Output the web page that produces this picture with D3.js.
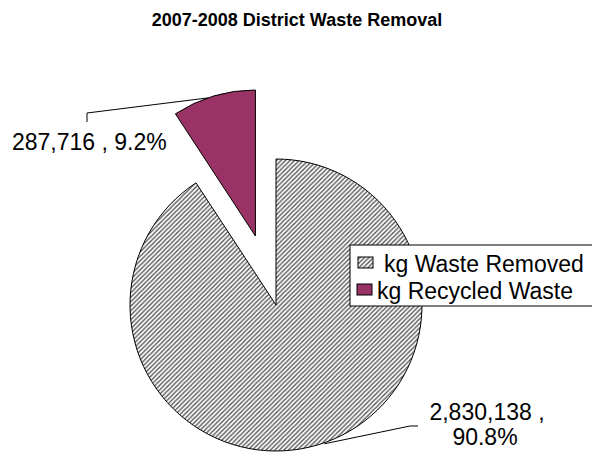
<!DOCTYPE html>
<html>
<head>
<meta charset="utf-8">
<script src="https://cdn.jsdelivr.net/npm/d3@7"></script>
<style>
  body { margin: 0; background: #fff; }
  svg { font-family: "Liberation Sans", Arial, sans-serif; }
</style>
</head>
<body>
<div id="chart"></div>
<script>
var categories = ["kg Waste Removed", "kg Recycled Waste"];
var values = [2830138, 287716];
var title = "2007-2008 District Waste Removal";

var width = 592, height = 452,
    cx = 276, cy = 305,
    radius = 146,
    explode = 72;

var svg = d3.select("#chart").append("svg")
    .attr("width", width)
    .attr("height", height);

var defs = svg.append("defs");
var hatch = defs.append("pattern")
    .attr("id", "hatch")
    .attr("patternUnits", "userSpaceOnUse")
    .attr("width", 4.5).attr("height", 4.5);
hatch.append("rect").attr("width", 4.5).attr("height", 4.5).attr("fill", "#fff");
hatch.append("path")
    .attr("d", "M-1,1 L1,-1 M0,4.5 L4.5,0 M3.5,5.5 L5.5,3.5")
    .attr("stroke", "#555").attr("stroke-width", 1.4);

var fills = ["url(#hatch)", "#993366"];

svg.append("text")
    .attr("x", 297).attr("y", 26)
    .attr("text-anchor", "middle")
    .attr("font-size", "18px")
    .attr("font-weight", "bold")
    .text(title);

var total = d3.sum(values);
var pie = d3.pie().sort(null).value(function (d) { return d; });
var arcs = pie(values);
var arc = d3.arc().innerRadius(0).outerRadius(radius);

function offsetOf(d, i) {
    if (i != 1) return [0, 0];
    var a = (d.startAngle + d.endAngle) / 2;
    return [Math.sin(a) * explode, -Math.cos(a) * explode];
}
function pointAt(a, r, off) {
    return [cx + off[0] + Math.sin(a) * r, cy + off[1] - Math.cos(a) * r];
}

var g = svg.append("g");
g.selectAll("path.slice")
    .data(arcs)
    .enter().append("path")
    .attr("class", "slice")
    .attr("transform", function (d, i) {
        var o = offsetOf(d, i);
        return "translate(" + (cx + o[0]) + "," + (cy + o[1]) + ")";
    })
    .attr("d", arc)
    .attr("fill", function (d, i) { return fills[i]; })
    .attr("stroke", "#000")
    .attr("stroke-width", 1);

var numFmt = d3.format(",");
var pctFmt = d3.format(".1%");

var big = arcs[0], small = arcs[1];

// small slice label
var sOff = offsetOf(small, 1);
var sp = pointAt(small.startAngle + 0.43 * (small.endAngle - small.startAngle), radius, sOff);
svg.append("path")
    .attr("d", "M" + sp[0] + "," + sp[1] + " L87,113 L87,122")
    .attr("fill", "none").attr("stroke", "#000").attr("stroke-width", 1);
svg.append("text")
    .attr("x", 12).attr("y", 150)
    .attr("font-size", "23px")
    .text(numFmt(values[1]) + " , " + pctFmt(values[1] / total));

// big slice label
var bp = pointAt(Math.PI * 0.893, radius + 1, [0, 0]);
svg.append("path")
    .attr("d", "M" + bp[0] + "," + bp[1] + " L410,426 L418,426")
    .attr("fill", "none").attr("stroke", "#000").attr("stroke-width", 1);
var bt = svg.append("text")
    .attr("font-size", "23px")
    .attr("text-anchor", "middle");
bt.append("tspan").attr("x", 487).attr("y", 420).text(numFmt(values[0]) + " ,");
bt.append("tspan").attr("x", 485).attr("y", 445).text(pctFmt(values[0] / total));

// legend
var legend = svg.append("g").attr("transform", "translate(350,245)");
legend.append("rect")
    .attr("width", 250).attr("height", 61)
    .attr("fill", "#fff").attr("stroke", "#000").attr("stroke-width", 1);
var item = legend.selectAll("g.item")
    .data(categories)
    .enter().append("g")
    .attr("class", "item")
    .attr("transform", function (d, i) { return "translate(0," + (i * 27) + ")"; });
item.append("rect")
    .attr("x", function (d, i) { return i == 0 ? 8 : 7; })
    .attr("y", 12)
    .attr("width", 15).attr("height", 11)
    .attr("fill", function (d, i) { return fills[i]; })
    .attr("stroke", "#000").attr("stroke-width", 1);
item.append("text")
    .attr("x", function (d, i) { return i == 0 ? 34 : 27; })
    .attr("y", 27)
    .attr("font-size", "23px")
    .text(function (d) { return d; });
</script>
</body>
</html>
